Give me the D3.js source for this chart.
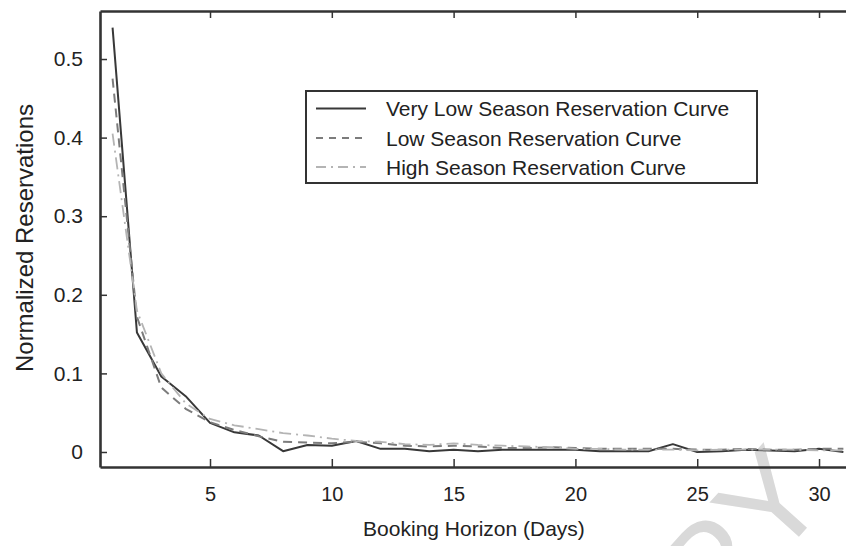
<!DOCTYPE html>
<html>
<head>
<meta charset="utf-8">
<script src="https://cdn.jsdelivr.net/npm/d3@7/dist/d3.min.js"></script>
<style>
  html, body { margin: 0; padding: 0; background: #fff; }
  svg { display: block; }
  text { font-family: "Liberation Sans", Arial, Helvetica, sans-serif; fill: #222; }
</style>
</head>
<body>
<svg id="chart" width="846" height="546"></svg>
<script>
// Booking horizon (days before arrival)
const days = d3.range(1, 32);

// Normalized reservation curves per season
const veryLowSeason = [0.540, 0.152, 0.096, 0.071, 0.037, 0.025, 0.021, 0.001, 0.009, 0.008,
                       0.014, 0.004, 0.004, 0.001, 0.003, 0.001, 0.003, 0.003, 0.003, 0.003,
                       0.001, 0.001, 0.001, 0.010, 0.000, 0.001, 0.003, 0.002, 0.001, 0.004, 0.000];
const lowSeason     = [0.475, 0.172, 0.082, 0.055, 0.038, 0.028, 0.020, 0.013, 0.012, 0.011,
                       0.013, 0.011, 0.008, 0.007, 0.008, 0.007, 0.005, 0.005, 0.006, 0.005,
                       0.004, 0.004, 0.004, 0.004, 0.003, 0.003, 0.004, 0.003, 0.003, 0.004, 0.004];
const highSeason    = [0.405, 0.180, 0.100, 0.062, 0.042, 0.034, 0.029, 0.024, 0.021, 0.017,
                       0.014, 0.013, 0.010, 0.009, 0.011, 0.009, 0.008, 0.007, 0.006, 0.004,
                       0.004, 0.003, 0.003, 0.003, 0.002, 0.003, 0.003, 0.003, 0.003, 0.002, 0.002];

const seriesNames = ["Very Low Season Reservation Curve",
                     "Low Season Reservation Curve",
                     "High Season Reservation Curve"];

const xTicks = [5, 10, 15, 20, 25, 30];
const yTicks = [0, 0.1, 0.2, 0.3, 0.4, 0.5];

const svg = d3.select("#chart");

// Plot frame
const plotLeft = 100, plotRight = 858, plotTop = 11, plotBottom = 467;

const x = d3.scaleLinear().domain([0.484, 31.6]).range([plotLeft, plotRight]);
const y = d3.scaleLinear().domain([-0.0191, 0.5611]).range([plotBottom, plotTop]);

const styles = [
  { color: "#383838", width: 2.0, dash: null,         legendDash: null },
  { color: "#7c7c7c", width: 2.0, dash: "9,6",        legendDash: "7,6" },
  { color: "#b4b4b4", width: 1.8, dash: "12,5,2,5",   legendDash: "10,5,2,5" }
];
const seriesValues = [veryLowSeason, lowSeason, highSeason];

// Watermark
svg.append("text")
  .attr("transform", "translate(832,500) rotate(-48)")
  .attr("text-anchor", "end")
  .style("font-size", "130px")
  .style("fill", "#d9d9d9")
  .text("COPY");

// Curves
const line = d3.line()
  .x((d, i) => x(days[i]))
  .y(d => y(d));

const plot = svg.append("g");
plot.append("clipPath").attr("id", "clip")
  .append("rect").attr("x", plotLeft).attr("y", plotTop)
  .attr("width", plotRight - plotLeft).attr("height", plotBottom - plotTop);

seriesValues.forEach((vals, k) => {
  plot.append("path")
    .datum(vals)
    .attr("clip-path", "url(#clip)")
    .attr("d", line)
    .attr("fill", "none")
    .attr("stroke", styles[k].color)
    .attr("stroke-width", styles[k].width)
    .attr("stroke-dasharray", styles[k].dash)
    .attr("stroke-linejoin", "round");
});

// Axes (ticks inward)
const axisColor = "#333";
const xAxisBottom = svg.append("g")
  .attr("transform", `translate(0,${plotBottom})`)
  .call(d3.axisBottom(x).tickValues(xTicks).tickSizeInner(-8).tickSizeOuter(0).tickPadding(20).tickFormat(d3.format("d")));
const xAxisTop = svg.append("g")
  .attr("transform", `translate(0,${plotTop})`)
  .call(d3.axisTop(x).tickValues(xTicks).tickSizeInner(-7).tickSizeOuter(0).tickFormat(""));
const yAxisLeft = svg.append("g")
  .attr("transform", `translate(${plotLeft},0)`)
  .call(d3.axisLeft(y).tickValues(yTicks).tickSizeInner(-7).tickSizeOuter(0).tickPadding(17).tickFormat(d => d === 0 ? "0" : d3.format(".1f")(d)));

[xAxisBottom, xAxisTop, yAxisLeft].forEach(g => {
  g.select(".domain").attr("stroke", axisColor).attr("stroke-width", 2.6);
  g.selectAll(".tick line").attr("stroke", axisColor).attr("stroke-width", 1.5);
  g.selectAll(".tick text").attr("fill", "#222")
    .style("font-family", "'Liberation Sans', Arial, Helvetica, sans-serif");
});
xAxisBottom.selectAll(".tick text").style("font-size", "20px").attr("dy", "0.71em");
yAxisLeft.selectAll(".tick text").style("font-size", "21px");

// Axis titles
svg.append("text")
  .attr("x", 474).attr("y", 536)
  .attr("text-anchor", "middle")
  .style("font-size", "21px")
  .text("Booking Horizon (Days)");

svg.append("text")
  .attr("transform", "translate(33,238) rotate(-90)")
  .attr("text-anchor", "middle")
  .style("font-size", "24px")
  .text("Normalized Reservations");

// Legend
const legend = svg.append("g");
legend.append("rect")
  .attr("x", 306).attr("y", 91).attr("width", 451).attr("height", 92)
  .attr("fill", "#fff").attr("stroke", "#333").attr("stroke-width", 2);

const rowY = [108.5, 138, 167];
seriesNames.forEach((name, k) => {
  legend.append("line")
    .attr("x1", 316).attr("x2", 366)
    .attr("y1", rowY[k]).attr("y2", rowY[k])
    .attr("stroke", styles[k].color)
    .attr("stroke-width", styles[k].width)
    .attr("stroke-dasharray", styles[k].legendDash);
  legend.append("text")
    .attr("x", 386).attr("y", rowY[k] + 7.5)
    .style("font-size", "21px")
    .text(name);
});
</script>
</body>
</html>
